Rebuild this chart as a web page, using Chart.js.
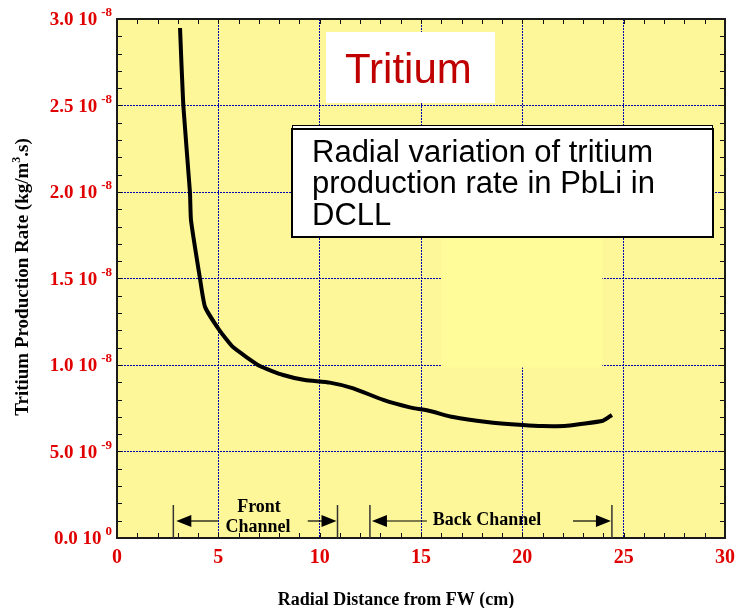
<!DOCTYPE html>
<html>
<head>
<meta charset="utf-8">
<script src="https://cdn.jsdelivr.net/npm/chart.js@4.4.1/dist/chart.umd.min.js"></script>
<style>
html,body{margin:0;padding:0;background:#fff;}
#wrap{width:736px;height:608px;}
</style>
</head>
<body>
<div id="wrap"><canvas id="c" width="736" height="608"></canvas></div>
<script>
// ---- data ----
const radialCm = [3.11, 3.27, 3.6, 3.65, 4.09, 4.34, 5.05, 5.74, 7.05, 8.2, 9.27, 10.5, 11.66, 13.14, 14.45, 15.44, 16.58, 18.25, 20.03, 21.0, 22.2, 23.98, 24.42];
const tritiumRate = [2.948e-8, 2.503e-8, 1.998e-8, 1.838e-8, 1.503e-8, 1.337e-8, 1.202e-8, 1.102e-8, 0.994e-8, 0.942e-8, 0.913e-8, 0.898e-8, 0.865e-8, 0.798e-8, 0.755e-8, 0.734e-8, 0.699e-8, 0.671e-8, 0.653e-8, 0.647e-8, 0.649e-8, 0.678e-8, 0.711e-8];
const xTicks = [0, 5, 10, 15, 20, 25, 30];
const yTickValues = [0, 0.5e-8, 1.0e-8, 1.5e-8, 2.0e-8, 2.5e-8, 3.0e-8];
const yTickMantissa = ["0.0 10", "5.0 10", "1.0 10", "1.5 10", "2.0 10", "2.5 10", "3.0 10"];
const yTickExponent = ["0", "-9", "-8", "-8", "-8", "-8", "-8"];
const frontChannel = [2.78, 10.88];   // cm
const backChannel = [12.48, 24.42];   // cm
const frontShafts = [4.98, 9.41];
const backShafts = [15.29, 22.5];

const points = radialCm.map((x, i) => ({x: x, y: tritiumRate[i]}));

const plotBg = '#fdf799';
const red = '#e00000';
const serif = '"Liberation Serif", "Times New Roman", serif';
const sans = '"Liberation Sans", Arial, sans-serif';

const decor = {
  id: 'decor',
  beforeDraw(chart) {
    const {ctx, chartArea: a} = chart;
    ctx.save();
    ctx.fillStyle = plotBg;
    ctx.fillRect(a.left, a.top, a.right - a.left, a.bottom - a.top);
    ctx.restore();
  },
  beforeDatasetsDraw(chart) {
    const {ctx} = chart;
    const xs = chart.scales.x, ys = chart.scales.y;
    ctx.save();
    // lighter patch (image artefact) covering grid
    const px1 = xs.getPixelForValue(16.0), px2 = xs.getPixelForValue(23.95);
    const py1 = ys.getPixelForValue(1.74e-8), py2 = ys.getPixelForValue(0.985e-8);
    ctx.fillStyle = '#fffc99';
    ctx.fillRect(px1, py1, px2 - px1, py2 - py1);
    // title box
    ctx.fillStyle = '#ffffff';
    ctx.fillRect(326, 32, 169, 71);
    ctx.fillStyle = '#c00000';
    ctx.font = '42px ' + sans;
    ctx.textAlign = 'left';
    ctx.textBaseline = 'alphabetic';
    ctx.fillText('Tritium', 345, 83);
    // description box
    ctx.fillStyle = '#ffffff';
    ctx.fillRect(292, 126, 420, 111);
    ctx.strokeStyle = '#000';
    ctx.lineWidth = 1;
    ctx.strokeRect(292.5, 125.5, 420, 111);
    ctx.lineWidth = 2;
    ctx.strokeRect(292, 129, 421, 108);
    ctx.fillStyle = '#000';
    ctx.font = '31px ' + sans;
    ctx.fillText('Radial variation of tritium', 312, 162);
    ctx.fillText('production rate in PbLi in', 312, 193);
    ctx.fillText('DCLL', 312, 225);
    ctx.restore();
  },
  afterDraw(chart) {
    const {ctx, chartArea: a} = chart;
    const xs = chart.scales.x, ys = chart.scales.y;
    ctx.save();
    // minor ticks
    ctx.strokeStyle = '#111';
    ctx.lineWidth = 1;
    ctx.beginPath();
    for (let v = 0; v <= 30; v += 1) {
      const px = Math.round(xs.getPixelForValue(v)) + 0.5;
      ctx.moveTo(px, a.bottom); ctx.lineTo(px, a.bottom - 5);
      ctx.moveTo(px, a.top); ctx.lineTo(px, a.top + 5);
    }
    for (let k = 0; k <= 30; k++) {
      const py = Math.round(ys.getPixelForValue(k * 0.1e-8)) + 0.5;
      ctx.moveTo(a.left, py); ctx.lineTo(a.left + 5, py);
      ctx.moveTo(a.right, py); ctx.lineTo(a.right - 5, py);
    }
    ctx.stroke();
    // border
    ctx.setLineDash([]);
    ctx.strokeStyle = '#1a1a1a';
    ctx.lineWidth = 2;
    ctx.strokeRect(a.left, a.top, a.right - a.left, a.bottom - a.top);

    // tick labels
    ctx.fillStyle = red;
    ctx.textBaseline = 'alphabetic';
    ctx.font = 'bold 20px ' + serif;
    ctx.textAlign = 'center';
    xTicks.forEach(v => ctx.fillText(String(v), xs.getPixelForValue(v), 563));
    yTickValues.forEach((v, i) => {
      const py = ys.getPixelForValue(v);
      ctx.font = 'bold 13px ' + serif;
      ctx.textAlign = 'right';
      ctx.fillText(yTickExponent[i], 112, py - 3);
      const ew = ctx.measureText(yTickExponent[i]).width;
      ctx.font = 'bold 19px ' + serif;
      ctx.fillText(yTickMantissa[i], 112 - ew - 4, py + 6);
    });

    // axis titles
    ctx.fillStyle = '#000';
    ctx.font = 'bold 18px ' + serif;
    ctx.textAlign = 'center';
    ctx.fillText('Radial Distance from FW (cm)', 396, 605);
    ctx.save();
    ctx.translate(28, 277);
    ctx.rotate(-Math.PI / 2);
    const p1 = 'Tritium Production Rate (kg/m', p2 = '3', p3 = '.s)';
    ctx.font = 'bold 19px ' + serif;
    const w1 = ctx.measureText(p1).width, w3 = ctx.measureText(p3).width;
    ctx.font = 'bold 12px ' + serif;
    const w2 = ctx.measureText(p2).width;
    let sx = -(w1 + w2 + w3) / 2;
    ctx.textAlign = 'left';
    ctx.font = 'bold 19px ' + serif;
    ctx.fillText(p1, sx, 0);
    ctx.font = 'bold 12px ' + serif;
    ctx.fillText(p2, sx + w1, -8);
    ctx.font = 'bold 19px ' + serif;
    ctx.fillText(p3, sx + w1 + w2, 0);
    ctx.restore();

    // channel annotations
    const yArrow = 521, yTop = 505;
    const X = v => xs.getPixelForValue(v);
    ctx.strokeStyle = '#333';
    ctx.lineWidth = 1.5;
    [frontChannel[0], frontChannel[1], backChannel[0], backChannel[1]].forEach(v => {
      ctx.beginPath(); ctx.moveTo(X(v), yTop); ctx.lineTo(X(v), a.bottom); ctx.stroke();
    });
    const arrow = (tip, tail, dir) => {
      ctx.strokeStyle = '#000';
      ctx.lineWidth = 1.2;
      ctx.beginPath(); ctx.moveTo(tip + dir * 14, yArrow); ctx.lineTo(tail, yArrow); ctx.stroke();
      ctx.fillStyle = '#000';
      ctx.beginPath();
      ctx.moveTo(tip + dir * 1, yArrow);
      ctx.lineTo(tip + dir * 16, yArrow - 6);
      ctx.lineTo(tip + dir * 16, yArrow + 6);
      ctx.closePath(); ctx.fill();
    };
    arrow(X(frontChannel[0]) + 2, X(frontShafts[0]), 1);
    arrow(X(frontChannel[1]), X(frontShafts[1]), -1);
    arrow(X(backChannel[0]) + 1, X(backShafts[0]), 1);
    arrow(X(backChannel[1]), X(backShafts[1]), -1);
    ctx.fillStyle = '#000';
    ctx.font = 'bold 18px ' + serif;
    ctx.textAlign = 'center';
    ctx.fillText('Front', 259, 512);
    ctx.fillText('Channel', 258, 532);
    ctx.fillText('Back Channel', 487, 525);
    ctx.restore();
  }
};

new Chart(document.getElementById('c'), {
  type: 'scatter',
  data: {
    datasets: [{
      data: points,
      showLine: true,
      borderColor: '#000',
      borderWidth: 4,
      pointRadius: 0,
      tension: 0.15,
      fill: false
    }]
  },
  options: {
    responsive: false,
    animation: false,
    devicePixelRatio: 1,
    layout: {padding: {left: 117, top: 19, right: 11, bottom: 70}},
    plugins: {legend: {display: false}, tooltip: {enabled: false}},
    scales: {
      x: {
        type: 'linear', min: 0, max: 30,
        ticks: {display: false, stepSize: 5},
        grid: {color: '#0000b0', lineWidth: 1, drawTicks: false, tickLength: 0},
        border: {display: true, color: '#1a1a1a', width: 2, dash: [2, 1]},
      },
      y: {
        type: 'linear', min: 0, max: 3e-8,
        ticks: {display: false, stepSize: 0.5e-8},
        grid: {color: '#0000b0', lineWidth: 1, drawTicks: false, tickLength: 0},
        border: {display: true, color: '#1a1a1a', width: 2, dash: [2, 1]},
      }
    }
  },
  plugins: [decor]
});
</script>
</body>
</html>
